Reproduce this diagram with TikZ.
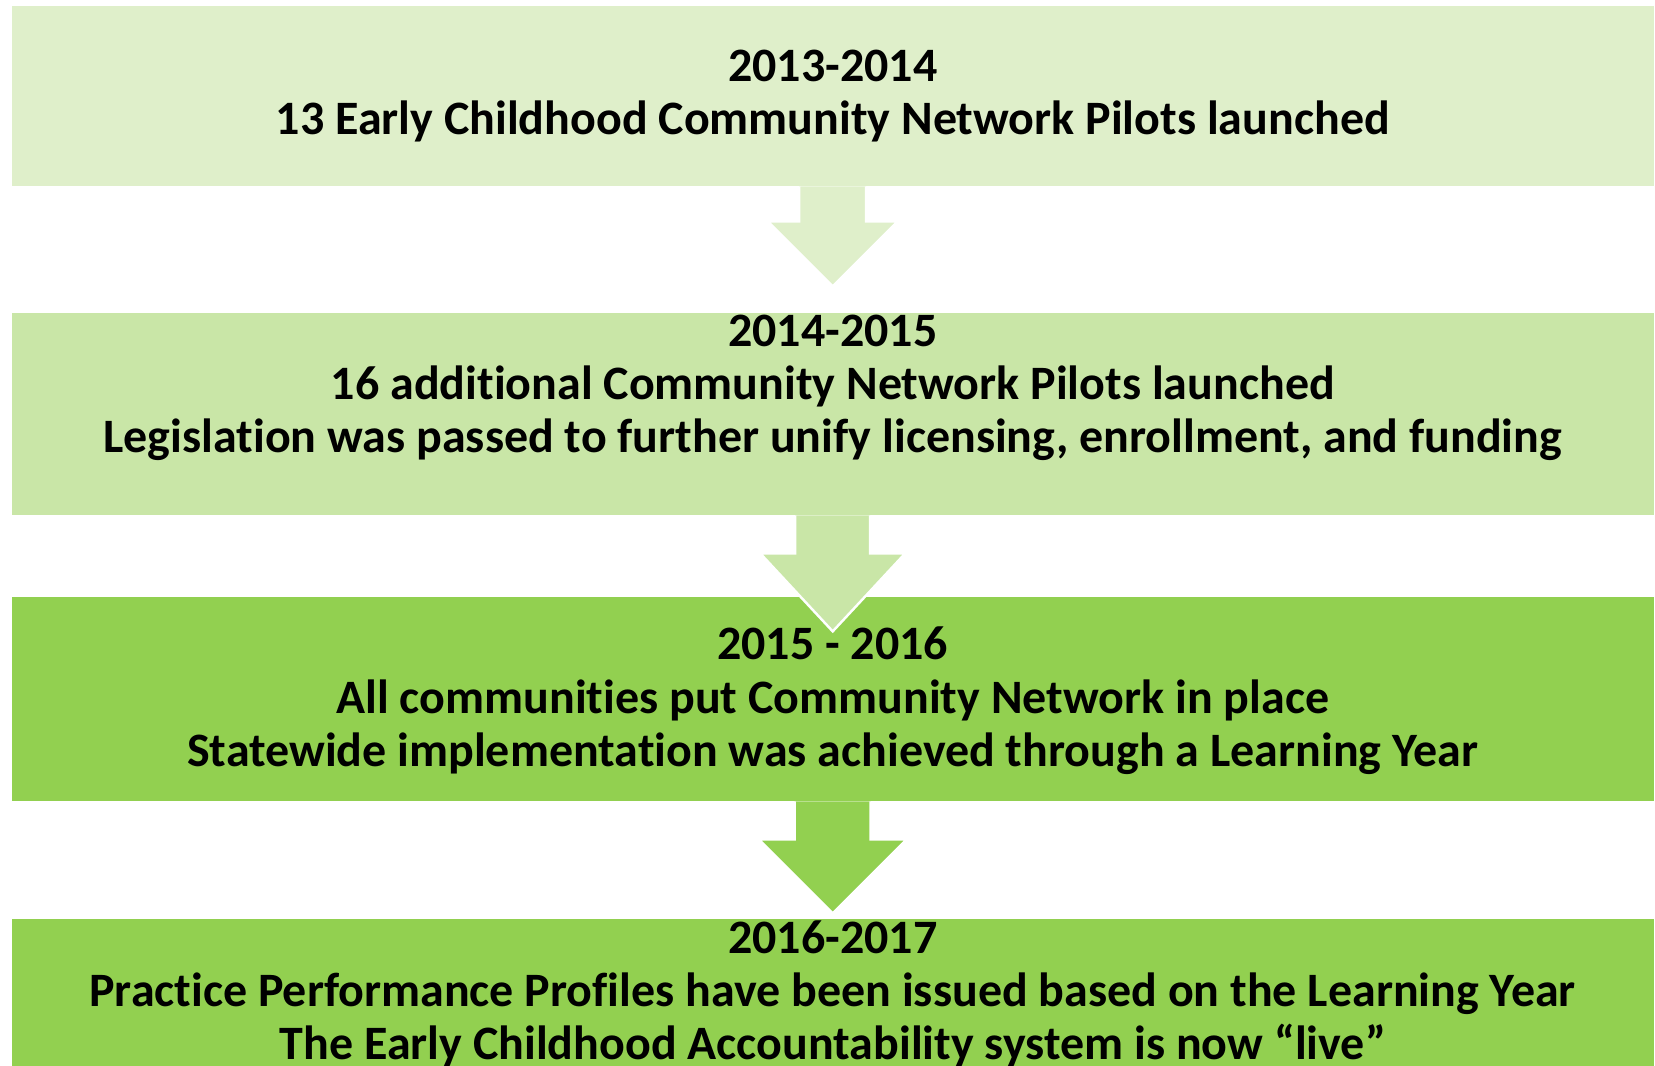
\documentclass[tikz,border=0pt]{standalone}
\usepackage{fontspec}
\setmainfont{Carlito}[Ligatures={NoCommon,NoContextual}]
\usepackage{tikz}
\usetikzlibrary{calc,positioning}

\definecolor{paleGreen}{HTML}{DFEFCA}
\definecolor{softGreen}{HTML}{C9E6A7}
\definecolor{brightGreen}{HTML}{92D050}

\begin{document}
\begin{tikzpicture}[
        phase/.style={minimum width=16.42cm, inner sep=0pt, anchor=north west},
        phasetext/.style={align=center, inner sep=0pt, font=\fontsize{13.65}{15.1}\selectfont\bfseries},
        blockarrow/.style={draw=white, line width=0.7pt, line join=miter}
    ]
        \useasboundingbox (0,0) rectangle (16.55,10.66);
        \clip (0,0) rectangle (16.55,10.66);

        % Timeline phases, top to bottom
        \node[phase, fill=paleGreen,   minimum height=1.80cm] (p1) at (0.11,10.61) {};
        \node[phase, fill=softGreen,   minimum height=2.02cm] (p2) at (0.11,7.54) {};
        \node[phase, fill=brightGreen, minimum height=2.04cm] (p3) at (0.11,4.70) {};
        \node[phase, fill=brightGreen, minimum height=1.60cm] (p4) at (0.11,1.48) {};

        % Down arrows hanging from each phase
        \foreach \src/\col/\s/\h/\sl/\hl in {
            p1/paleGreen/0.335/0.65/0.35/0.65,
            p2/softGreen/0.375/0.725/0.38/0.78,
            p3/brightGreen/0.38/0.74/0.38/0.74
        } {
            \filldraw[blockarrow, fill=\col]
                ($(\src.south)+(-\s,0)$) -- ++(0,-\sl) -- ++(\s-\h,0)
                -- ++(\h,-\hl) -- ++(\h,\hl) -- ++(\s-\h,0) -- ++(0,\sl);
        }

        % Phase descriptions
        \node[phasetext] (t1) at (p1) {2013-2014\\13 Early Childhood Community Network Pilots launched};
        \node[phasetext] (t2) at ($(p2)+(0,0.26)$) {2014-2015\\16 additional Community Network Pilots launched\\Legislation was passed to further unify licensing, enrollment, and funding};
        \node[phasetext] (t3) at ($(p3)+(0,-0.02)$) {2015 - 2016\\All communities put Community Network in place\\Statewide implementation was achieved through a Learning Year};
        \node[phasetext] (t4) at ($(p4.north)+(0,-0.76)$) {2016-2017\\Practice Performance Profiles have been issued based on the Learning Year\\The Early Childhood Accountability system is now “live”};
    \end{tikzpicture}
\end{document}
